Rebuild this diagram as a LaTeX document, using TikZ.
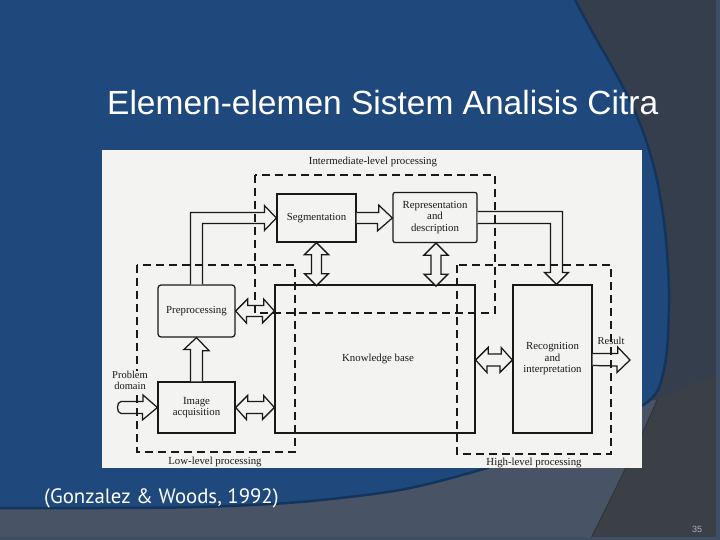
\documentclass[tikz,border=0pt]{standalone}
\usepackage{fontspec}
\setmainfont{Liberation Serif}
\newfontfamily\titlefont{Liberation Sans}
\newfontfamily\capfont{PT Sans}
\usetikzlibrary{calc}
\definecolor{slideblue}{RGB}{31,73,125}
\definecolor{blueedge}{RGB}{20,52,92}
\definecolor{midgray}{RGB}{72,84,102}
\definecolor{darkslate}{RGB}{52,62,76}
\definecolor{darkgraytwo}{RGB}{59,63,70}
\definecolor{edgestrip}{RGB}{62,78,100}
\definecolor{paper}{RGB}{243,243,241}
\definecolor{ink}{RGB}{25,25,25}
\definecolor{pagegray}{RGB}{170,178,190}
\begin{document}
\begin{tikzpicture}[x=1pt,y=-1pt,
  box/.style={draw=ink,line width=1.25pt,fill=paper,inner sep=1pt,align=center,
    font=\fontsize{10.8}{11.5}\selectfont,text=ink},
  region/.style={draw=ink,line width=1.3pt,dash pattern=on 8pt off 5pt},
  blockarrow/.style={draw=ink,line width=1.25pt,fill=paper,line join=miter},
  lab/.style={text=ink,font=\fontsize{10.5}{11.5}\selectfont,inner sep=0.5pt,align=center},
  reglab/.style={text=ink,font=\fontsize{10.8}{12}\selectfont,inner sep=0pt}]
\useasboundingbox (0,0) rectangle (720,540);
% ---------- slide background ----------
\fill[midgray] (0,0) rectangle (720,540);
\fill[darkslate] (500,0) -- (720,0) -- (720,373) -- (657,400) -- (500,400) -- cycle;
\fill[darkgraytwo] (657,400) .. controls (640,440) and (610,500) .. (590,540) -- (720,540) -- (720,373) -- cycle;
\draw[darkgraytwo!80!black,line width=0.8pt] (657,400) .. controls (640,440) and (610,500) .. (590,540);
\fill[slideblue] (0,0) -- plot[smooth] coordinates {(575,0) (594,35) (614,70) (632,105) (646,140) (657,180) (665,230) (669,290) (667,350) (660,385) (650,400) (635,409) (590,430) (540,450) (480,470) (400,490) (300,502) (200,507) (100,508) (0,508)} -- cycle;
\draw[blueedge,line width=2.5pt] plot[smooth] coordinates {(575,0) (594,35) (614,70) (632,105) (646,140) (657,180) (665,230) (669,290) (667,350) (660,385) (650,400) (635,409) (590,430) (540,450) (480,470) (400,490) (300,502) (200,507) (100,508) (0,508)};
\fill[edgestrip] (716,0) rectangle (720,540);
\fill[edgestrip] (0,537) rectangle (720,540);
% ---------- texts of the slide ----------
\node[anchor=base west,text=white,font=\titlefont\fontsize{33.5}{40}\selectfont,inner sep=0pt] (title) at (107,115) {Elemen-elemen Sistem Analisis Citra};
\node[anchor=base west,text=white,font=\capfont\fontsize{20.8}{24}\selectfont,inner sep=0pt] (cite) at (44,503) {(Gonzalez \& Woods, 1992)};
\node[anchor=base,text=pagegray,font=\titlefont\fontsize{9}{10}\selectfont,inner sep=0pt] (pg) at (697,532) {35};
% ---------- scanned diagram ----------
\fill[paper] (102,150) rectangle (642,468);
% boxes
\node[box,minimum width=79pt,minimum height=48pt] (seg) at (316.5,218) {Segmentation};
\node[box,rounded corners=2pt,minimum width=84pt,minimum height=50pt] (rep) at (435,217.5) {Representation\\and\\description};
\node[box,rounded corners=3pt,minimum width=77pt,minimum height=52pt] (pre) at (196.5,311) {Preprocessing};
\node[box,minimum width=77pt,minimum height=51pt] (acq) at (196.5,407.5) {Image\\acquisition};
\node[box,minimum width=200pt,minimum height=148pt] (kb) at (375,359) {\hspace*{6pt}Knowledge base};
\node[box,minimum width=79pt,minimum height=148pt] (rec) at (552.5,359) {Recognition\\and\\interpretation};
% block arrows
\draw[blockarrow] ($(pre.north)+(-6,0)$) |- ($(seg.west)+(-12,-5.5)$) -- ++(0,-7) -- (seg.west) -- ++(-12,12.5) -- ++(0,-7) -| ($(pre.north)+(6,0)$);
\draw[blockarrow] ($(seg.east)+(0,-5.5)$) -- ++(22,0) -- ++(0,-7.5) -- (rep.west |- seg.east) -- ++(-15,13) -- ++(0,-7.5) -- ($(seg.east)+(0,5.5)$);
\draw[blockarrow] ($(rep.east)+(0,-6)$) -| ($(rec.north)+(10,-12)$) -- ++(6,0) -- ($(rec.north)+(4,0)$) -- ++(-12,-12) -- ++(6,0) |- ($(rep.east)+(0,6)$);
\draw[blockarrow] (seg.south) -- ++(12,12) -- ++(-7,0) -- ++(0,19) -- ++(7,0) -- ++(-12,12) -- ++(-12,-12) -- ++(7,0) -- ++(0,-19) -- ++(-7,0) -- cycle;
\draw[blockarrow] ($(rep.south)+(1,0)$) -- ++(12,12) -- ++(-7,0) -- ++(0,19) -- ++(7,0) -- ++(-12,12) -- ++(-12,-12) -- ++(7,0) -- ++(0,-19) -- ++(-7,0) -- cycle;
\draw[blockarrow] (pre.east) -- ++(12,-12) -- ++(0,6.5) -- ++(16,0) -- ++(0,-6.5) -- (kb.west |- pre.east) -- ++(-12,12) -- ++(0,-6.5) -- ++(-16,0) -- ++(0,6.5) -- cycle;
\draw[blockarrow] (acq.east) -- ++(12,-12) -- ++(0,6) -- ++(16,0) -- ++(0,-6) -- (kb.west |- acq.east) -- ++(-12,12) -- ++(0,-6) -- ++(-16,0) -- ++(0,6) -- cycle;
\draw[blockarrow] ($(kb.east)+(0,1)$) -- ++(12.5,-12.5) -- ++(0,6.5) -- ++(13,0) -- ++(0,-6.5) -- ($(rec.west)+(0,1)$) -- ++(-12.5,12.5) -- ++(0,-6.5) -- ++(-13,0) -- ++(0,6.5) -- cycle;
\draw[blockarrow] ($(acq.north)+(-6,0)$) -- ++(0,-32) -- ++(-6.5,0) -- (pre.south) -- ++(12.5,13) -- ++(-6.5,0) -- ($(acq.north)+(6,0)$);
\coordinate (pd) at (121,407.5);
\draw[blockarrow] ($(pd)+(0,-6)$) -- ++(22,0) -- ++(0,-6.5) -- (acq.west) -- ++(-15,12.5) -- ++(0,-6.5) -- ($(pd)+(0,6)$) to[out=180,in=180] ($(pd)+(0,-6)$) -- cycle;
\coordinate (res) at (630,360);
\draw[blockarrow] ($(rec.east)+(0,-5.5)$) -- ++(25,0) -- ++(0,-6.5) -- (res) -- ++(-13,12.5) -- ++(0,-6.5) -- ($(rec.east)+(0,6.5)$);
% dashed processing regions
\draw[region] (255,175) rectangle (495,313);
\draw[region] (137,265) rectangle (295,452);
\draw[region] (457,265) rectangle (611,454);
% labels
\node[reglab] (lint) at (373,162) {Intermediate-level processing};
\node[reglab] (llow) at (215,462) {Low-level processing};
\node[reglab] (lhigh) at (534,463) {High-level processing};
\node[lab,fill=paper] (lpd) at (130,380.5) {Problem\\domain};
\node[lab] (lres) at (611,341) {Result};
\end{tikzpicture}
\end{document}
